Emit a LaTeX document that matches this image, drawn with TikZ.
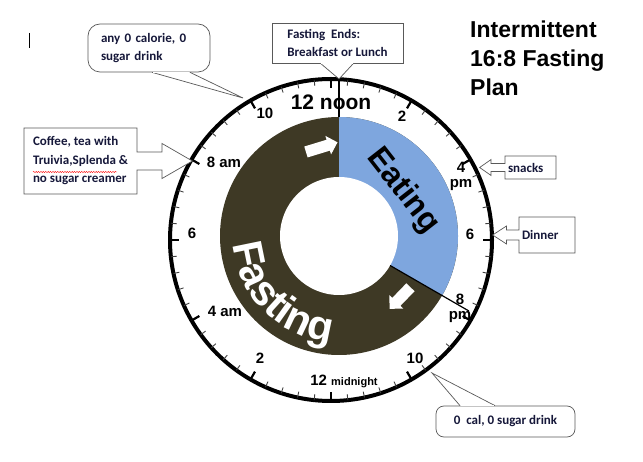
\documentclass[tikz,border=0pt]{standalone}
\usepackage{fontspec}
\setmainfont{Liberation Sans}
\newfontfamily\notefont{Carlito}
\usetikzlibrary{shapes.arrows,decorations.text,decorations.pathmorphing}

\definecolor{fastbrown}{RGB}{62,57,37}
\definecolor{eatblue}{RGB}{126,166,222}
\definecolor{notenavy}{RGB}{22,24,58}

\tikzset{
  note/.style={draw=black!65, line width=0.7pt, fill=white, align=left,
    text=notenavy, font=\notefont\bfseries\fontsize{13}{18}\selectfont},
  arrownote/.style={note, arrow box, arrow box head indent=0pt},
  notetail/.style={draw=black!65, line width=0.7pt, fill=white},
  hourlabel/.style={font=\bfseries\fontsize{15}{15}\selectfont, align=center, inner sep=0pt},
  whitearrow/.style={single arrow, fill=white, draw=none, inner xsep=0pt,
    inner ysep=5.5pt, single arrow head extend=4pt},
  minortick/.style={line width=0.9pt, black!75},
  hourtick/.style={line width=2.2pt},
}

\begin{document}
\begin{tikzpicture}[x=1pt,y=-1pt]
  \pgfmathsetmacro{\clockR}{161}
  \pgfmathsetmacro{\ringOut}{119}
  \pgfmathsetmacro{\ringIn}{59}
  \useasboundingbox[fill=white] (0,0) rectangle (643,462);

  \coordinate (clock) at (331,240);
  \coordinate (ring) at (339,236);

  % fasting / eating ring
  \fill[fastbrown] (ring) circle[radius=\ringOut];
  \fill[eatblue] (ring) -- ++(-90:\ringOut)
    arc[start angle=-90, end angle=30, radius=\ringOut] -- cycle;
  \fill[white] (ring) circle[radius=\ringIn];

  \path[decorate, decoration={text along path, text align=center, text color=white,
      text={|\bfseries\fontsize{42}{42}\selectfont|Fasting}}]
    (ring) ++(215:106) arc[start angle=215, end angle=55, radius=106];
  \node[rotate=-52, inner sep=0pt, font=\bfseries\fontsize{32}{32}\selectfont] (eating) at (403,191) {Eating};

  \node[whitearrow, minimum height=33pt, rotate=17] (toeat) at (319,148) {};
  \node[whitearrow, minimum height=30pt, rotate=226] (tofast) at (402,296) {};

  % dial
  \draw[line width=4pt] (clock) circle[radius=\clockR];
  \foreach \a in {0,6,...,354}
    \draw[minortick] (clock) ++(\a:\clockR) -- ++(\a:-6);
  \foreach \a in {0,30,...,330}
    \draw[hourtick] (clock) ++(\a:\clockR) -- ++(\a:-9);

  \draw[line width=1.8pt] (ring) ++(0,-\ringOut) -- (339,79);
  \draw[line width=1.2pt] (ring) ++(30:\ringIn) -- ++(30:91);

  \node[hourlabel, font=\bfseries\fontsize{21}{21}\selectfont] (noon) at (331,102) {12 noon};
  \node[hourlabel] (twopm) at (402,116) {2};
  \node[hourlabel] (fourpm) at (461,176) {4\\pm};
  \node[hourlabel] (sixpm) at (470,234) {6};
  \node[hourlabel] (eightpm) at (460,308) {8\\pm};
  \node[hourlabel] (tenpm) at (415,358) {10};
  \node[hourlabel] (midnight) at (344,381) {12 {\fontsize{11}{11}\selectfont midnight}};
  \node[hourlabel] (twoam) at (260,358) {2};
  \node[hourlabel] (fouram) at (225,311) {4 am};
  \node[hourlabel] (sixam) at (192,233) {6};
  \node[hourlabel] (eightam) at (224,162) {8 am};
  \node[hourlabel] (tenam) at (265,113) {10};

  % notes
  \node[note, rounded corners=12pt, text width=96pt, inner xsep=13pt, minimum height=48pt]
    (anydrink) at (149,48) {any 0 calorie, 0\\sugar drink};
  \coordinate (anydrinktip) at (243,98);
  \draw[notetail] ([xshift=3pt]anydrink.south) -- (anydrinktip) -- ([xshift=41pt]anydrink.south);
  \draw[white, line width=1.6pt] ([xshift=3.8pt]anydrink.south) -- ([xshift=40.2pt]anydrink.south);

  \node[note, minimum width=131pt, minimum height=40pt] (fastend) at (337.5,43)
    {Fasting\ \ Ends:\\Breakfast or Lunch};
  \coordinate (fastendtip) at (339,79);
  \draw[notetail] ([xshift=-17pt]fastend.south) -- (fastendtip) -- ([xshift=16pt]fastend.south);
  \draw[white, line width=1.6pt] ([xshift=-16.2pt]fastend.south) -- ([xshift=15.2pt]fastend.south);

  \node[arrownote, minimum width=113pt, minimum height=66pt,
    font=\notefont\bfseries\fontsize{13}{18.5}\selectfont,
    arrow box arrows={east:55pt}, arrow box shaft width=18pt,
    arrow box head extend=8.5pt, arrow box tip angle=60]
    (coffee) at (80.5,161) {Coffee, tea with\\Truivia,Splenda \&\\no sugar creamer};
  \draw[red, line width=0.4pt, decorate,
    decoration={snake, amplitude=0.6pt, segment length=2.4pt}] (33,172) -- (117,172);

  \node[arrownote, minimum height=23pt, text width=45pt, inner xsep=3pt,
    arrow box arrows={west:25pt}, arrow box shaft width=8pt,
    arrow box head extend=4pt, arrow box tip angle=70]
    (snacks) at (530.5,167.5) {snacks};
  \node[arrownote, minimum height=36pt, text width=50pt, inner xsep=3pt,
    arrow box arrows={west:26pt}, arrow box shaft width=10pt,
    arrow box head extend=4pt, arrow box tip angle=66]
    (dinner) at (547,235) {Dinner};

  \node[note, rounded corners=8pt, minimum width=139pt, minimum height=31pt]
    (calnote) at (505.5,421.5) {0\ \ cal, 0 sugar drink};
  \coordinate (calnotetip) at (432,373);
  \draw[notetail] ([xshift=-45.5pt]calnote.north) -- (calnotetip) -- ([xshift=-10.5pt]calnote.north);
  \draw[white, line width=1.6pt] ([xshift=-44.7pt]calnote.north) -- ([xshift=-11.3pt]calnote.north);

  \node[anchor=north west, inner sep=0pt, align=left,
    font=\bfseries\fontsize{23}{29}\selectfont] (title) at (470,21)
    {Intermittent\\16:8 Fasting\\Plan};

  \draw[line width=1pt] (29,33) -- (29,48);
\end{tikzpicture}
\end{document}
